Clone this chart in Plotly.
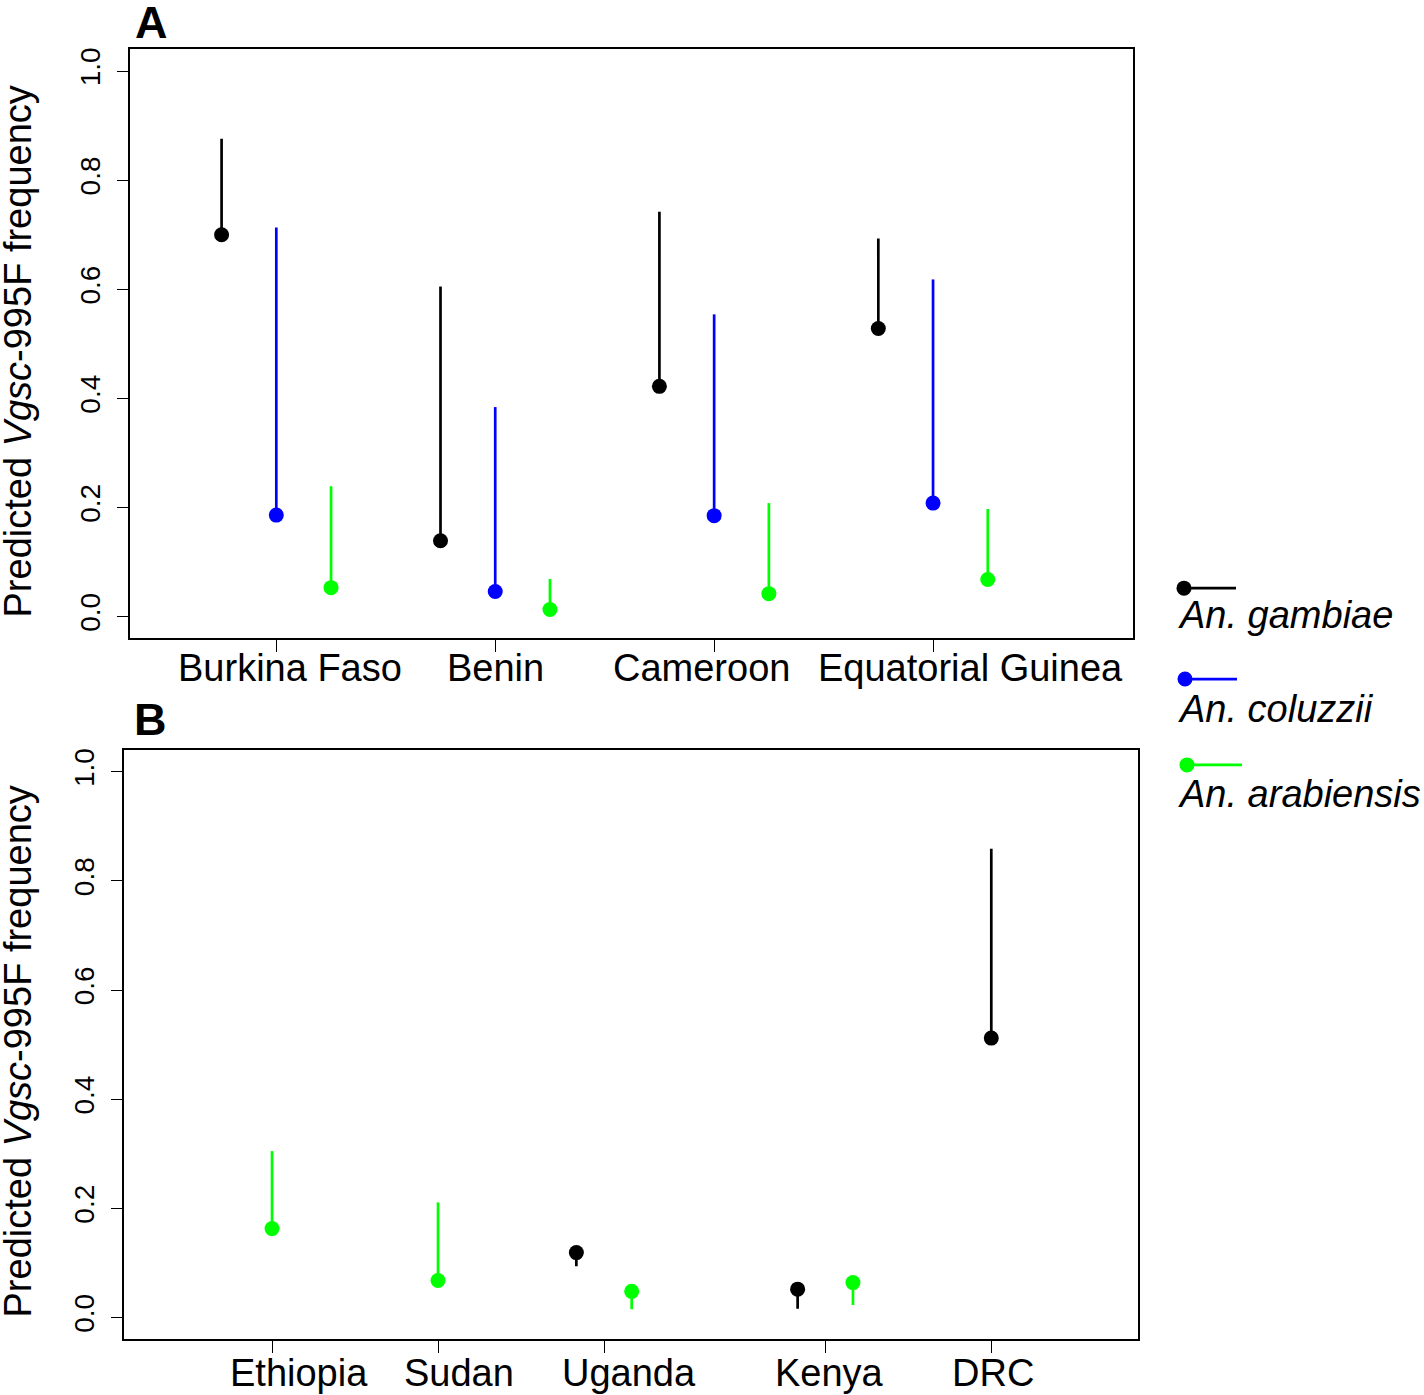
import plotly.graph_objects as go

# ---------------- data ----------------
countries_a = ["Burkina Faso", "Benin", "Cameroon", "Equatorial Guinea"]
gambiae_a = [0.700, 0.139, 0.422, 0.528]
gambiae_a_lo = [0.700, 0.139, 0.422, 0.528]
gambiae_a_hi = [0.876, 0.605, 0.742, 0.693]
coluzzii_a = [0.186, 0.046, 0.185, 0.208]
coluzzii_a_lo = [0.186, 0.046, 0.185, 0.208]
coluzzii_a_hi = [0.713, 0.384, 0.554, 0.618]
arabiensis_a = [0.053, 0.013, 0.042, 0.068]
arabiensis_a_lo = [0.053, 0.013, 0.042, 0.068]
arabiensis_a_hi = [0.239, 0.069, 0.208, 0.197]

countries_b = ["Ethiopia", "Sudan", "Uganda", "Kenya", "DRC"]
gambiae_b = [None, None, 0.119, 0.052, 0.512]
gambiae_b_lo = [None, None, 0.094, 0.016, 0.512]
gambiae_b_hi = [None, None, 0.119, 0.052, 0.859]
arabiensis_b = [0.163, 0.068, 0.048, 0.064, None]
arabiensis_b_lo = [0.163, 0.068, 0.015, 0.023, None]
arabiensis_b_hi = [0.305, 0.211, 0.048, 0.064, None]

y_ticks = [0.0, 0.2, 0.4, 0.6, 0.8, 1.0]
species = ["An. gambiae", "An. coluzzii", "An. arabiensis"]

# ---------------- layout constants ----------------
W, H = 1424, 1395
COL = {"An. gambiae": "black", "An. coluzzii": "#0000FF", "An. arabiensis": "#00FF00"}
FONT = "Liberation Sans, Arial, Helvetica, sans-serif"
pos_a = [1, 2, 3, 4]
off_a = {"An. gambiae": -0.25, "An. coluzzii": 0.0, "An. arabiensis": 0.25}
lab_a = [1.063, 2.0, 2.94, 4.17]
pos_b = [1, 2, 3, 4.333, 5.333]
off_b = 1 / 6
lab_b = [1.163, 2.127, 3.153, 4.358, 5.346]


def px_x(p):
    return p / W


def px_y(p):
    return 1 - p / H


fig = go.Figure()


def add_series(xaxis, yaxis, xs, vals, lo, hi, color):
    xx, yy, up, dn = [], [], [], []
    for x, v, l, h in zip(xs, vals, lo, hi):
        if v is None:
            continue
        xx.append(x)
        yy.append(v)
        up.append(h - v)
        dn.append(v - l)
    fig.add_trace(go.Scatter(
        x=xx, y=yy, xaxis=xaxis, yaxis=yaxis, mode="markers",
        marker=dict(color=color, size=15, line=dict(width=0)),
        error_y=dict(type="data", symmetric=False, array=up, arrayminus=dn,
                     color=color, thickness=2.7, width=0),
        showlegend=False, hoverinfo="skip"))


# Panel A
series_a = [
    ("An. gambiae", gambiae_a, gambiae_a_lo, gambiae_a_hi),
    ("An. coluzzii", coluzzii_a, coluzzii_a_lo, coluzzii_a_hi),
    ("An. arabiensis", arabiensis_a, arabiensis_a_lo, arabiensis_a_hi),
]
for sp, v, lo, hi in series_a:
    xs = [p + off_a[sp] for p in pos_a]
    add_series("x", "y", xs, v, lo, hi, COL[sp])

# Panel B
both = [g is not None and a is not None for g, a in zip(gambiae_b, arabiensis_b)]
xs_g = [p - off_b if b else p for p, b in zip(pos_b, both)]
xs_ar = [p + off_b if b else p for p, b in zip(pos_b, both)]
add_series("x2", "y2", xs_g, gambiae_b, gambiae_b_lo, gambiae_b_hi, COL["An. gambiae"])
add_series("x2", "y2", xs_ar, arabiensis_b, arabiensis_b_lo, arabiensis_b_hi, COL["An. arabiensis"])

axis_common = dict(showgrid=False, zeroline=False, showline=True, mirror=True,
                   linecolor="black", linewidth=1.5, ticks="outside", ticklen=12,
                   tickwidth=1.2, tickcolor="black")
yaxis_common = dict(axis_common, range=[-0.04, 1.04], tickvals=y_ticks,
                    ticktext=["%.1f" % t for t in y_ticks], tickangle=-90,
                    tickfont=dict(family=FONT, size=28, color="black"),
                    ticklabelstandoff=5)

fig.update_layout(
    width=W, height=H, autosize=False,
    margin=dict(l=0, r=0, t=0, b=0),
    paper_bgcolor="white", plot_bgcolor="white",
    font=dict(family=FONT, color="black"),
    xaxis=dict(axis_common, domain=[px_x(130.3), px_x(1132.7)], range=[0.333, 4.912],
               tickvals=pos_a, showticklabels=False, anchor="y"),
    yaxis=dict(yaxis_common, domain=[px_y(637.3), px_y(47.3)], anchor="x"),
    xaxis2=dict(axis_common, domain=[px_x(124.3), px_x(1137.7)], range=[0.110, 6.215],
                tickvals=pos_b, showticklabels=False, anchor="y2"),
    yaxis2=dict(yaxis_common, domain=[px_y(1339.3), px_y(749)], anchor="x2"),
)

ann = []
# category labels
for name, x in zip(countries_a, lab_a):
    ann.append(dict(x=x, xref="x", y=px_y(667), yref="paper", text=name,
                    showarrow=False, xanchor="center", yanchor="middle",
                    font=dict(size=38, family=FONT)))
for name, x in zip(countries_b, lab_b):
    ann.append(dict(x=x, xref="x2", y=px_y(1373), yref="paper", text=name,
                    showarrow=False, xanchor="center", yanchor="middle",
                    font=dict(size=38, family=FONT)))
# y titles
ytitle = "Predicted <i>Vgsc</i>-995F frequency"
for yc in (350, 1051):
    ann.append(dict(x=px_x(18), xref="paper", y=px_y(yc), yref="paper", text=ytitle,
                    textangle=-90, showarrow=False, xanchor="center", yanchor="middle",
                    font=dict(size=38, family=FONT)))
# panel letters
ann.append(dict(x=px_x(151), xref="paper", y=px_y(21), yref="paper", text="<b>A</b>",
                showarrow=False, xanchor="center", yanchor="middle",
                font=dict(size=45, family=FONT)))
ann.append(dict(x=px_x(150), xref="paper", y=px_y(719), yref="paper", text="<b>B</b>",
                showarrow=False, xanchor="center", yanchor="middle",
                font=dict(size=45, family=FONT)))

# legend
leg = [(587, 1184, 1236, 614), (678, 1185, 1237, 708), (764, 1187, 1242, 793)]
shapes = []
for sp, (ym, xm, xe, yt) in zip(species, leg):
    shapes.append(dict(type="line", xref="paper", yref="paper", x0=px_x(xm), x1=px_x(xe),
                       y0=px_y(ym), y1=px_y(ym), line=dict(color=COL[sp], width=2.7)))
    shapes.append(dict(type="circle", xref="paper", yref="paper",
                       x0=px_x(xm - 7.5), x1=px_x(xm + 7.5), y0=px_y(ym + 7.5), y1=px_y(ym - 7.5),
                       fillcolor=COL[sp], line=dict(width=0)))
    ann.append(dict(x=px_x(1176), xref="paper", y=px_y(yt), yref="paper",
                    text="<i>%s</i>" % sp, showarrow=False, xanchor="left", yanchor="middle",
                    font=dict(size=38, family=FONT)))

fig.update_layout(annotations=ann, shapes=shapes)

fig.write_html("out.html", config={"displayModeBar": False},
               post_script="document.body.style.margin='0';")
